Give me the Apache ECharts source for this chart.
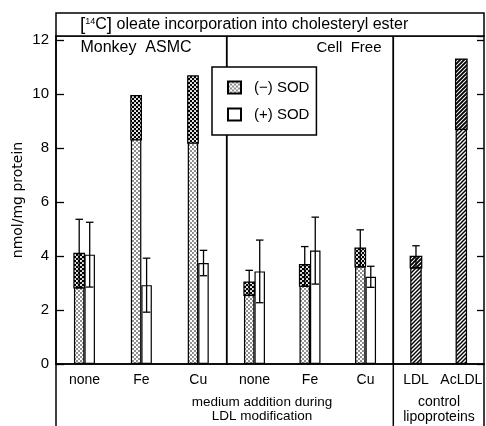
<!DOCTYPE html>
<html><head><meta charset="utf-8">
<script src="https://cdn.jsdelivr.net/npm/echarts@6/dist/echarts.min.js"></script>
<style>html,body{margin:0;padding:0;background:#fff}#c{width:486px;height:426px}</style>
</head><body><div id="c"></div>
<script>
// ---- data ----
const asmcCategories = ['none', 'Fe', 'Cu'];
const cellFreeCategories = ['none', 'Fe', 'Cu'];
const controlCategories = ['LDL', 'AcLDL'];
// first 3 = Monkey ASMC, last 3 = Cell Free
const minusSOD = [4.10, 9.94, 10.67, 3.03, 3.68, 4.29];
const minusErrUp = [1.26, 0, 0, 0.44, 0.67, 0.68];
const minusErrDown = [1.28, 1.64, 2.49, 0.49, 0.80, 0.69];
const plusSOD = [4.05, 2.92, 3.74, 3.43, 4.20, 3.23];
const plusErr = [1.20, 1.00, 0.47, 1.16, 1.24, 0.39];
const controlValues = [3.99, 11.29];
const controlErrUp = [0.39, 0];
const controlErrDown = [0.43, 2.60];
const yTickValues = [0, 2, 4, 6, 8, 10, 12];
const seriesNames = ['(\u2212) SOD', '(+) SOD'];

// ---- styling ----
const FONT = '"Liberation Sans", Arial, sans-serif';
function pattern(size, draw) {
  const c = document.createElement('canvas');
  c.width = size; c.height = size;
  const ctx = c.getContext('2d');
  draw(ctx, size);
  return { image: c, repeat: 'repeat' };
}
const stipple = pattern(4, (ctx) => {
  ctx.fillStyle = '#fff'; ctx.fillRect(0, 0, 4, 4);
  ctx.fillStyle = '#000';
  ctx.beginPath(); ctx.arc(1, 1, 0.8, 0, Math.PI * 2); ctx.fill();
  ctx.beginPath(); ctx.arc(3, 3, 0.8, 0, Math.PI * 2); ctx.fill();
});
const stippleDense = pattern(4, (ctx) => {
  ctx.fillStyle = '#000'; ctx.fillRect(0, 0, 4, 4);
  ctx.fillStyle = '#fff';
  ctx.beginPath(); ctx.arc(1, 1, 1.05, 0, Math.PI * 2); ctx.fill();
  ctx.beginPath(); ctx.arc(3, 3, 1.05, 0, Math.PI * 2); ctx.fill();
});
function hatchPat(size, lw) {
  return pattern(size, (ctx, s) => {
    ctx.fillStyle = '#fff'; ctx.fillRect(0, 0, s, s);
    ctx.strokeStyle = '#000'; ctx.lineWidth = lw;
    ctx.beginPath();
    ctx.moveTo(-1, s + 1); ctx.lineTo(s + 1, -1);
    ctx.moveTo(-1, 1); ctx.lineTo(1, -1);
    ctx.moveTo(s - 1, s + 1); ctx.lineTo(s + 1, s - 1);
    ctx.stroke();
  });
}
const hatch = hatchPat(4, 1.45);
const hatchDense = hatchPat(4, 1.9);

const BAR_W = 10.5;
const CTRL_W = 11.5;

function errRenderer(offset, bw, bandFill) {
  return function (params, api) {
    const i = api.value(0), v = api.value(1), up = api.value(2), dn = api.value(3);
    const top = api.coord([i, v]);
    const lo = api.coord([i, v - dn]);
    const hi = api.coord([i, v + up]);
    const x = top[0] + offset;
    const cap = 7.5;
    const children = [];
    const ls = { stroke: '#000', lineWidth: 1.3 };
    if (bandFill) {
      children.push({ type: 'rect', shape: { x: x - bw / 2, y: top[1], width: bw, height: lo[1] - top[1] },
        style: { fill: bandFill, stroke: '#000', lineWidth: 1.2 } });
    }
    if (up > 0 || !bandFill) {
      children.push({ type: 'line', shape: { x1: x, y1: hi[1], x2: x, y2: lo[1] }, style: ls });
      children.push({ type: 'line', shape: { x1: x - cap / 2, y1: hi[1], x2: x + cap / 2, y2: hi[1] }, style: ls });
      children.push({ type: 'line', shape: { x1: x - cap / 2, y1: lo[1], x2: x + cap / 2, y2: lo[1] }, style: ls });
    }
    return { type: 'group', children };
  };
}

const gridTop = 36, gridH = 328;
const grids = [
  { left: 56, top: gridTop, width: 170.7, height: gridH },
  { left: 226.7, top: gridTop, width: 166.6, height: gridH },
  { left: 393.3, top: gridTop, width: 90.7, height: gridH }
].map(g => Object.assign(g, { show: true, borderColor: '#000', borderWidth: 1.5, containLabel: false }));

const catLabel = { color: '#000', fontFamily: FONT, fontSize: 14, margin: 9, interval: 0, hideOverlap: false };
function xAx(idx, data) {
  return { type: 'category', gridIndex: idx, data, axisLine: { show: true, lineStyle: { color: '#000', width: 1.5 } },
    axisTick: { show: false }, axisLabel: catLabel };
}
const yMin = yTickValues[0], yStep = yTickValues[1] - yTickValues[0], yMax = 12.15;
function yAx(idx, opts) {
  return Object.assign({ type: 'value', gridIndex: idx, min: yMin, max: yMax, interval: yStep, splitLine: { show: false },
    axisLine: { show: false }, axisTick: { show: false }, axisLabel: { show: false } }, opts);
}

const series = [];
[0, 1].forEach(g => {
  const sl = (arr) => arr.slice(g * 3, g * 3 + 3);
  series.push({ name: seriesNames[0], type: 'bar', xAxisIndex: g, yAxisIndex: g, data: sl(minusSOD), barWidth: BAR_W, barGap: '0%',
    itemStyle: { color: stipple, borderColor: '#000', borderWidth: 1.2 }, silent: true });
  series.push({ name: seriesNames[1], type: 'bar', xAxisIndex: g, yAxisIndex: g, data: sl(plusSOD), barWidth: BAR_W, barGap: '0%',
    itemStyle: { color: '#fff', borderColor: '#000', borderWidth: 1.2 }, silent: true });
  series.push({ type: 'custom', xAxisIndex: g, yAxisIndex: g, z: 5, encode: { x: 0, y: 1 },
    data: sl(minusSOD).map((v, k) => [k, v, sl(minusErrUp)[k], sl(minusErrDown)[k]]),
    renderItem: errRenderer(-BAR_W / 2, BAR_W, stippleDense) });
  series.push({ type: 'custom', xAxisIndex: g, yAxisIndex: g, z: 5, encode: { x: 0, y: 1 },
    data: sl(plusSOD).map((v, k) => [k, v, sl(plusErr)[k], sl(plusErr)[k]]),
    renderItem: errRenderer(BAR_W / 2, BAR_W, null) });
});
series.push({ name: 'control', type: 'bar', xAxisIndex: 2, yAxisIndex: 2, data: controlValues, barWidth: CTRL_W,
  itemStyle: { color: hatch, borderColor: '#000', borderWidth: 1.2 } });
series.push({ type: 'custom', xAxisIndex: 2, yAxisIndex: 2, z: 5, encode: { x: 0, y: 1 },
  data: controlValues.map((v, k) => [k, v, controlErrUp[k], controlErrDown[k]]),
  renderItem: errRenderer(0, CTRL_W, hatchDense) });

const option = {
  animation: false,
  backgroundColor: '#fff',
  grid: grids,
  xAxis: [xAx(0, asmcCategories), xAx(1, cellFreeCategories), xAx(2, controlCategories)],
  yAxis: [
    yAx(0, { axisLine: { show: true, lineStyle: { color: '#000', width: 1.5 } },
      axisTick: { show: true, inside: true, length: 8, lineStyle: { color: '#000', width: 1.3 } },
      axisLabel: { show: true, color: '#000', fontFamily: FONT, fontSize: 15, margin: 7 },
      name: 'nmol/mg protein', nameLocation: 'middle', nameRotate: 90, nameGap: 31,
      nameTextStyle: { color: '#000', fontFamily: '"DejaVu Sans", sans-serif', fontSize: 14 } }),
    yAx(1, {}),
    yAx(2, { position: 'right', axisTick: { show: true, inside: true, length: 7, lineStyle: { color: '#000', width: 1.3 } } })
  ],
  legend: {
    data: seriesNames, left: 212, top: 67, orient: 'vertical',
    backgroundColor: '#fff', borderColor: '#000', borderWidth: 1.5,
    padding: [13, 7, 13, 15], itemGap: 12, itemWidth: 13, itemHeight: 12,
    textStyle: { color: '#000', fontFamily: FONT, fontSize: 15, padding: [0, 0, 0, 8] },
    selectedMode: false, icon: 'rect'
  },
  graphic: [
    { type: 'rect', shape: { x: 56, y: 13, width: 428, height: 23 }, style: { fill: '#fff', stroke: '#000', lineWidth: 1.5 }, z: 10 },
    { type: 'text', x: 80, y: 25, z: 11, style: {
      text: '{br|[}{sup|14}{c|C}{br|]} oleate incorporation into cholesteryl ester',
      fill: '#000', fontFamily: FONT, fontSize: 16, verticalAlign: 'middle', align: 'left',
      rich: { br: { fontSize: 19, fontFamily: FONT }, sup: { fontSize: 9, fontFamily: FONT, padding: [0, 0, 7, 0] }, c: { fontSize: 16, fontFamily: FONT } } } },
    { type: 'text', x: 136, y: 48, z: 11, style: { text: 'Monkey  ASMC', fill: '#000', fontFamily: FONT, fontSize: 16, align: 'center', verticalAlign: 'middle' } },
    { type: 'text', x: 349, y: 48, z: 11, style: { text: 'Cell  Free', fill: '#000', fontFamily: FONT, fontSize: 15, align: 'center', verticalAlign: 'middle' } },
    { type: 'text', x: 262, y: 402, z: 11, style: { text: 'medium addition during', fill: '#000', fontFamily: FONT, fontSize: 13.5, align: 'center', verticalAlign: 'middle' } },
    { type: 'text', x: 262, y: 416, z: 11, style: { text: 'LDL modification', fill: '#000', fontFamily: FONT, fontSize: 13.5, align: 'center', verticalAlign: 'middle' } },
    { type: 'text', x: 439, y: 402, z: 11, style: { text: 'control', fill: '#000', fontFamily: FONT, fontSize: 14, align: 'center', verticalAlign: 'middle' } },
    { type: 'text', x: 439, y: 417, z: 11, style: { text: 'lipoproteins', fill: '#000', fontFamily: FONT, fontSize: 14, align: 'center', verticalAlign: 'middle' } },
    { type: 'line', shape: { x1: 56, y1: 364, x2: 56, y2: 426 }, style: { stroke: '#000', lineWidth: 1.5 } },
    { type: 'line', shape: { x1: 393.3, y1: 364, x2: 393.3, y2: 426 }, style: { stroke: '#000', lineWidth: 1.5 } },
    { type: 'line', shape: { x1: 484, y1: 364, x2: 484, y2: 426 }, style: { stroke: '#000', lineWidth: 1.5 } }
  ],
  series
};
const chart = echarts.init(document.getElementById('c'), null, { renderer: 'canvas' });
chart.setOption(option);
</script></body></html>
